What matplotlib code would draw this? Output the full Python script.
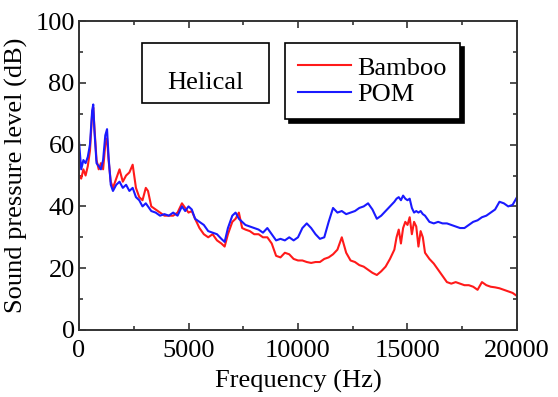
import numpy as np
import matplotlib
matplotlib.use('Agg')
import matplotlib.pyplot as plt
from matplotlib.patches import Rectangle

plt.rcParams['font.family'] = ['Liberation Serif', 'DejaVu Serif']

# Frequency axis (Hz)
freq = [0, 100, 200, 300, 400, 500, 600, 650, 700, 800, 900, 1000, 1100, 1200, 1280,
        1350, 1450, 1550, 1700, 1850, 2000, 2150, 2300, 2450, 2600, 2750, 2900, 3050,
        3150, 3300, 3500, 3700, 3900, 4100, 4300, 4500, 4700, 4850, 5000, 5150, 5300,
        5500, 5700, 5900, 6100, 6300, 6500, 6650, 6800, 7000, 7150, 7300, 7450, 7600,
        7800, 8000, 8200, 8400, 8600, 8800, 9000, 9200, 9400, 9600, 9800, 10000, 10200,
        10400, 10600, 10800, 11000, 11200, 11400, 11600, 11800, 12000, 12200, 12400,
        12600, 12800, 13000, 13200, 13400, 13600, 13800, 14000, 14200, 14400, 14500,
        14600, 14700, 14800, 14900, 15000, 15100, 15200, 15300, 15400, 15500, 15600,
        15700, 15800, 16000, 16200, 16400, 16600, 16800, 17000, 17200, 17400, 17600,
        17800, 18000, 18200, 18400, 18600, 18800, 19000, 19200, 19400, 19600, 19800, 20000]

bamboo = [50, 49, 52, 50, 53, 58, 70, 72, 66, 55, 52, 54, 52, 60, 62,
          55, 48, 46, 49, 52, 48, 50, 51, 53.5, 46, 43, 42, 46,
          45, 40, 39, 38, 37, 37, 37, 38, 41, 39.5, 38, 38.5, 36,
          33, 31, 30, 31, 29, 28, 27, 31, 35, 36, 38, 33, 32.5,
          32, 31, 31, 30, 30, 28, 24, 23.5, 25, 24.5, 23, 22.5, 22.5,
          22, 21.7, 22, 22, 23, 23.5, 24.5, 26, 30, 25, 22.5,
          22, 21, 20.5, 19.5, 18.5, 17.8, 19, 20.5, 23, 26, 30,
          32.5, 28, 33, 35, 34, 36.5, 31, 35, 33.5, 27, 32,
          30, 25, 23, 21.5, 19.5, 17.5, 15.5, 15, 15.5, 15, 14.5,
          14.5, 14, 13, 15.5, 14.5, 14, 13.8, 13.5, 13, 12.5, 12, 11]

pom = [61, 52, 55, 54, 56, 60, 71, 73, 65, 54, 53, 52, 55, 63, 65,
       56, 47, 45, 47, 48, 46, 47, 45, 46, 43, 42, 40, 41,
       40, 38.5, 38, 37, 37.5, 37, 38, 37, 40, 38.5, 40, 39, 36,
       35, 34, 32, 31.5, 31, 29.5, 28.5, 33, 37, 38, 36, 35, 34,
       33.5, 33, 32.5, 31.5, 33, 31, 29, 29.5, 29, 30, 29, 30, 33,
       34.5, 33, 31, 29.5, 30, 35, 39.5, 38, 38.5, 37.5, 38,
       38.5, 39.5, 40, 41, 39, 36, 37, 38.5, 40, 41.5, 42.5,
       43, 42, 43.5, 42.5, 42, 42.5, 39.5, 38, 38.5, 38, 38.5,
       37.5, 37, 35, 34.5, 35, 34.5, 34.5, 34, 33.5, 33, 33,
       34, 35, 35.5, 36.5, 37, 38, 39, 41.5, 41, 40, 40.5, 43]

fig = plt.figure(figsize=(5.58, 3.97), dpi=100)
ax = fig.add_axes([0.1416, 0.1688, 0.7849, 0.7782])

ax.plot(freq, bamboo, color='#ff1a1a', lw=1.5, label='Bamboo')
ax.plot(freq, pom, color='#1a1aff', lw=1.5, label='POM')

ax.set_xlim(0, 20000)
ax.set_ylim(0, 100)
ax.set_xticks([0, 5000, 10000, 15000, 20000])
ax.set_xticks(np.arange(0, 20001, 2500), minor=True)
ax.set_yticks([0, 20, 40, 60, 80, 100])
ax.set_yticks(np.arange(0, 101, 10), minor=True)
ax.tick_params(which='both', direction='in', top=True, right=True,
               labelsize=19, color='#333333')
ax.tick_params(axis='x', pad=7)
ax.tick_params(axis='y', pad=3)
ax.tick_params(which='major', length=5, width=1.2)
ax.tick_params(which='minor', length=3, width=1.2)
for s in ax.spines.values():
    s.set_linewidth(1.4)
    s.set_color('#333333')

ax.set_xlabel('Frequency (Hz)', fontsize=19, labelpad=6)
ax.set_ylabel('Sound pressure level (dB)', fontsize=19, labelpad=5)

# "Helical" label box
ax.add_patch(Rectangle((0.1438, 0.7346), 0.290, 0.194, transform=ax.transAxes,
                       fill=False, ec='black', lw=1.2, zorder=5))
ax.text(0.289, 0.780, 'Helical', transform=ax.transAxes, fontsize=19,
        ha='center', va='baseline', zorder=6)

leg = ax.legend(loc='upper left', bbox_to_anchor=(0.470, 0.929), borderaxespad=0,
                fontsize=19, fancybox=False, edgecolor='black', framealpha=1,
                handlelength=2.0, handletextpad=0.25, labelspacing=0.1,
                borderpad=0.5, shadow={'ox': 3, 'oy': -3, 'shade': 1.0, 'alpha': 1})
leg.get_frame().set_linewidth(1.2)

fig.savefig('out.png', dpi=100)
